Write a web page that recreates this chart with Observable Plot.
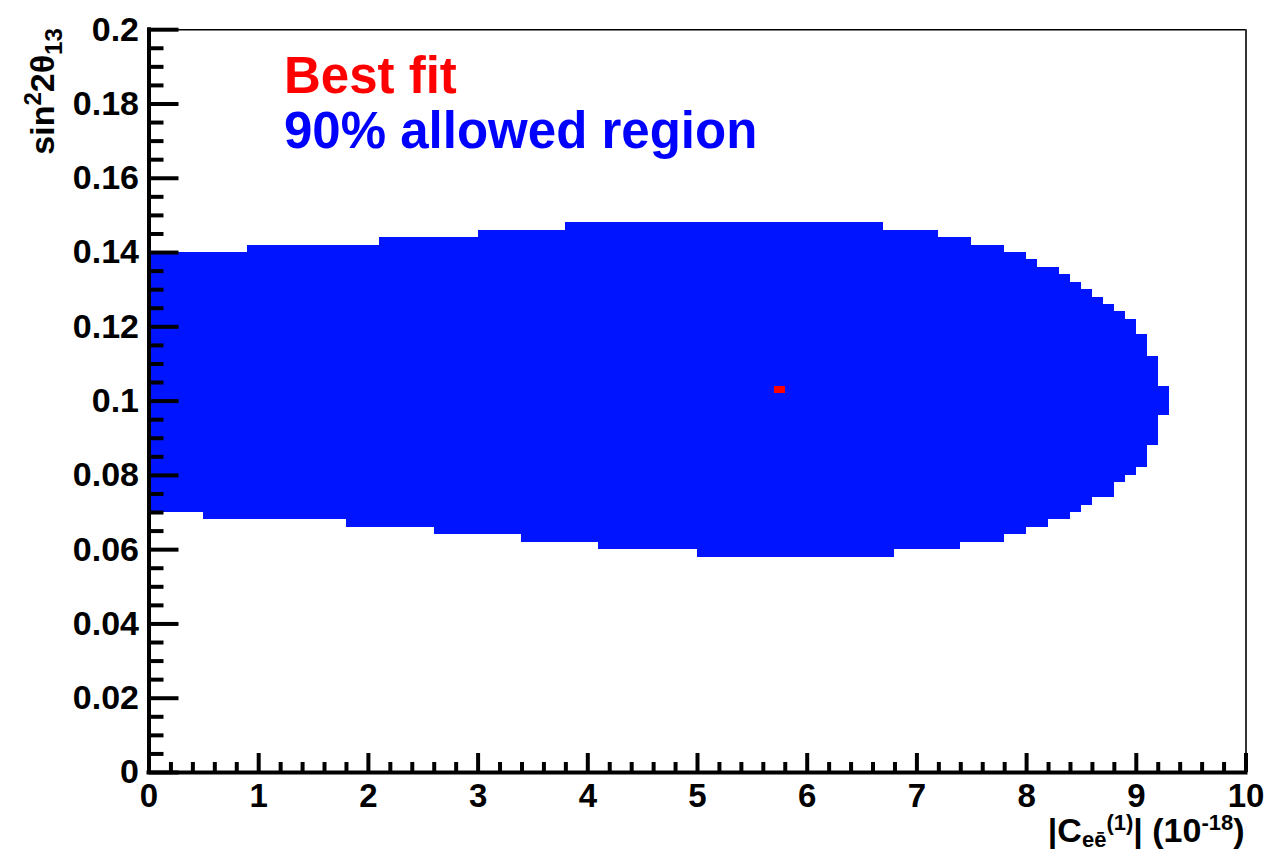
<!DOCTYPE html>
<html>
<head>
<meta charset="utf-8">
<script src="https://cdn.jsdelivr.net/npm/d3@7"></script>
<script src="https://cdn.jsdelivr.net/npm/@observablehq/plot@0.6"></script>
<style>
  html, body { margin: 0; padding: 0; background: #fff; }
  #chart svg { display: block; }
</style>
</head>
<body>
<div id="chart"></div>
<script>
// Histogram bin size of the scan (|C| in 1e-18, sin^2 2θ13)
const binX = 0.1;
const binY = 0.002;

// Upper boundary of the 90% allowed region: step starts (x) and heights
const upperX0 = [0, 0.9, 2.1, 3.0, 3.8, 6.7, 7.2, 7.5, 7.8, 8.0, 8.1, 8.3, 8.4, 8.5, 8.6, 8.7, 8.8, 8.9, 9.0, 9.1, 9.2];
const upperY  = [0.140, 0.142, 0.144, 0.146, 0.148, 0.146, 0.144, 0.142, 0.140, 0.138, 0.136, 0.134, 0.132, 0.130, 0.128, 0.126, 0.124, 0.122, 0.118, 0.112, 0.104];

// Lower boundary of the 90% allowed region
const lowerX0 = [0, 0.5, 1.8, 2.6, 3.4, 4.1, 5.0, 6.8, 7.4, 7.8, 8.0, 8.2, 8.4, 8.5, 8.6, 8.8, 8.9, 9.0, 9.1, 9.2];
const lowerY  = [0.070, 0.068, 0.066, 0.064, 0.062, 0.060, 0.058, 0.060, 0.062, 0.064, 0.066, 0.068, 0.070, 0.072, 0.074, 0.078, 0.080, 0.082, 0.088, 0.096];

// Right end of the allowed region
const regionXMax = 9.3;

// Best-fit point
const bestFitX = [5.75];
const bestFitY = [0.103];

// Axis ticks and labels
const xMajor = [0, 1, 2, 3, 4, 5, 6, 7, 8, 9, 10];
const xLabels = ["0", "1", "2", "3", "4", "5", "6", "7", "8", "9", "10"];
const yMajor = [0, 0.02, 0.04, 0.06, 0.08, 0.1, 0.12, 0.14, 0.16, 0.18, 0.2];
const yLabels = ["0", "0.02", "0.04", "0.06", "0.08", "0.1", "0.12", "0.14", "0.16", "0.18", "0.2"];
const xMinorStep = 0.2;
const yMinorStep = 0.005;

const legendLines = ["Best fit", "90% allowed region"];
const legendColors = ["#ff0000", "#0000ff"];

// ---- build the region as vertical columns between boundary breakpoints ----
function stepAt(x0s, ys, x) {
  let v = ys[0];
  for (let i = 0; i < x0s.length; i++) if (x0s[i] <= x + 1e-9) v = ys[i];
  return v;
}
const breaks = Array.from(new Set([...upperX0, ...lowerX0, regionXMax].map(v => +v.toFixed(3)))).sort((a, b) => a - b);
const columns = [];
for (let i = 0; i < breaks.length - 1; i++) {
  const a = breaks[i], b = breaks[i + 1];
  columns.push({x1: a, x2: b, lo: stepAt(lowerX0, lowerY, a), hi: stepAt(upperX0, upperY, a)});
}
const bestFit = bestFitX.map((x, i) => ({x, y: bestFitY[i]}));

const xMinor = d3.range(0, 10 + 1e-9, xMinorStep).map(v => +v.toFixed(3)).filter(v => Math.abs(v - Math.round(v)) > 1e-6);
const yMinor = d3.range(0, 0.2 + 1e-9, yMinorStep).map(v => +v.toFixed(4)).filter(v => Math.abs(v / 0.02 - Math.round(v / 0.02)) > 1e-6);

// ---- layout ----
const W = 1265, H = 851;
const mL = 148.5, mR = 19.5, mT = 29.2, mB = 79;
const fw = W - mL - mR, fh = H - mT - mB;
const FONT = "'Liberation Sans', Arial, Helvetica, sans-serif";

const chart = Plot.plot({
  width: W,
  height: H,
  marginLeft: mL, marginRight: mR, marginTop: mT, marginBottom: mB,
  x: {domain: [0, 10], axis: null},
  y: {domain: [0, 0.2], axis: null},
  style: {fontFamily: FONT, background: "#fff", color: "#000"},
  marks: [
    // 90% allowed region
    Plot.rect(columns, {x1: "x1", x2: "x2", y1: "lo", y2: "hi", fill: "#0014ff", shapeRendering: "crispEdges"}),
    // best-fit bin
    Plot.rect(bestFit, {
      x1: d => d.x - binX / 2, x2: d => d.x + binX / 2,
      y1: d => d.y - binY / 2, y2: d => d.y + binY / 2,
      fill: "#ff0000", shapeRendering: "crispEdges"
    }),
    // thin frame on top and right
    Plot.ruleY([0.2], {stroke: "#000", strokeWidth: 1.6}),
    Plot.ruleX([10], {stroke: "#000", strokeWidth: 1.6}),
    // inward ticks
    Plot.tickX(xMajor, {x: d => d, insetTop: fh - 19, stroke: "#000", strokeWidth: 4}),
    Plot.tickX(xMinor, {x: d => d, insetTop: fh - 10, stroke: "#000", strokeWidth: 4}),
    Plot.tickY(yMajor, {y: d => d, insetRight: fw - 30, stroke: "#000", strokeWidth: 4}),
    Plot.tickY(yMinor, {y: d => d, insetRight: fw - 15, stroke: "#000", strokeWidth: 4}),
    // heavy axis lines
    Plot.ruleX([0], {stroke: "#000", strokeWidth: 4, strokeLinecap: "square"}),
    Plot.ruleY([0], {stroke: "#000", strokeWidth: 4, strokeLinecap: "square"}),
    // tick labels
    Plot.axisX(xMajor, {
      tickSize: 0, tickPadding: 11, fontSize: 33, fontWeight: "bold", fontFamily: FONT,
      tickFormat: (d, i) => xLabels[i], label: null
    }),
    Plot.axisY(yMajor, {
      tickSize: 0, tickPadding: 10, fontSize: 34, fontWeight: "bold", fontFamily: FONT,
      tickFormat: (d, i) => yLabels[i], label: null
    }),
    // legend text
    Plot.text([legendLines[0]], {
      frameAnchor: "top-left", dx: 135, dy: 63, lineAnchor: "bottom", textAnchor: "start",
      fill: legendColors[0], fontSize: 51, fontWeight: "bold", fontFamily: FONT
    }),
    Plot.text([legendLines[1]], {
      frameAnchor: "top-left", dx: 135, dy: 118, lineAnchor: "bottom", textAnchor: "start",
      fill: legendColors[1], fontSize: 51, fontWeight: "bold", fontFamily: FONT
    })
  ]
});

// ---- axis titles with sub/superscripts ----
const svg = d3.select(chart);

// y title: sin^2 2θ_13 (rotated, end at top of frame)
const yt = svg.append("text")
  .attr("transform", `translate(54,${mT - 1}) rotate(-90)`)
  .attr("text-anchor", "end")
  .attr("font-family", FONT)
  .attr("font-weight", "bold")
  .attr("font-size", 34)
  .attr("fill", "#000");
yt.append("tspan").text("sin");
yt.append("tspan").attr("font-size", 24).attr("dy", -13).text("2");
yt.append("tspan").attr("dy", 13).text("2θ");
yt.append("tspan").attr("font-size", 24).attr("dy", 8).text("13");

// x title: |C_{eē}^{(1)}| (10^{-18}) right-aligned to the frame
const xt = svg.append("text")
  .attr("x", W - mR - 1)
  .attr("y", 842)
  .attr("text-anchor", "end")
  .attr("font-family", FONT)
  .attr("font-weight", "bold")
  .attr("font-size", 34)
  .attr("fill", "#000");
xt.append("tspan").text("|C");
xt.append("tspan").attr("font-size", 22).attr("dy", 5).text("eē");
xt.append("tspan").attr("font-size", 22).attr("dy", -17).text("(1)");
xt.append("tspan").attr("dy", 12).text("| (10");
xt.append("tspan").attr("font-size", 22).attr("dy", -12).text("-18");
xt.append("tspan").attr("dy", 12).text(")");

document.getElementById("chart").appendChild(chart);
</script>
</body>
</html>
